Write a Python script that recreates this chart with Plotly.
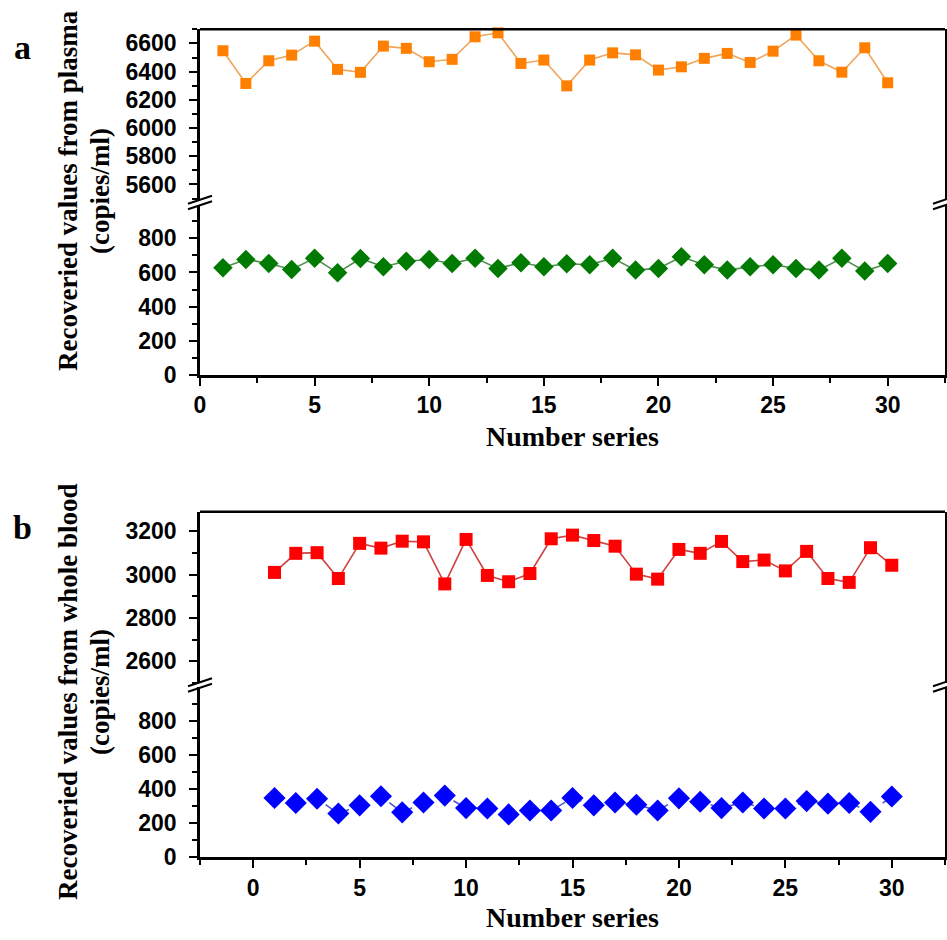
import plotly.graph_objects as go

# ---------------- data ----------------
x_series = list(range(1, 31))
plasma_high = [6548, 6316, 6477, 6517, 6616, 6416, 6395, 6581, 6565, 6470,
               6487, 6647, 6675, 6458, 6482, 6299, 6482, 6533, 6519, 6411,
               6434, 6494, 6529, 6465, 6545, 6659, 6477, 6396, 6569, 6321]
plasma_low = [628, 676, 653, 618, 684, 598, 682, 634, 666, 676,
              653, 684, 624, 657, 634, 651, 645, 684, 614, 624,
              692, 645, 614, 634, 645, 624, 614, 684, 608, 653]
blood_high = [3010, 3098, 3101, 2982, 3144, 3122, 3154, 3151, 2957, 3162,
              2996, 2967, 3005, 3165, 3182, 3157, 3131, 3002, 2979, 3116,
              3098, 3153, 3060, 3067, 3017, 3107, 2982, 2964, 3124, 3043]
blood_low = [347, 318, 343, 256, 304, 357, 263, 321, 361, 288,
             286, 251, 274, 274, 347, 304, 321, 308, 274, 345,
             325, 288, 321, 286, 286, 329, 314, 318, 266, 356]

x_ticks = [0, 5, 10, 15, 20, 25, 30]
low_ticks = [0, 200, 400, 600, 800]
plasma_high_ticks = [5600, 5800, 6000, 6200, 6400, 6600]
blood_high_ticks = [2600, 2800, 3000, 3200]

# ---------------- layout helpers ----------------
W, H = 947, 940
def px(v):
    return v / W
def py(v):
    return 1 - v / H

TICKFONT = dict(family="Liberation Sans, Arial", size=23, color="black", weight="bold")
SERIF = "Liberation Serif, Times New Roman"
TITLEFONT = dict(family=SERIF, size=27, color="black", weight="bold")
XTITLEFONT = dict(family=SERIF, size=28, color="black", weight="bold")

fig = go.Figure()

def add(x, y, xa, ya, symbol, mcolor, lcolor, size, dash="solid"):
    fig.add_trace(go.Scatter(
        x=x, y=y, xaxis=xa, yaxis=ya, mode="lines+markers",
        marker=dict(symbol=symbol, color=mcolor, size=size, line=dict(width=0)),
        line=dict(color=lcolor, width=1.6, dash=dash),
        cliponaxis=False, showlegend=False))

add(x_series, plasma_high, "x", "y2", "square", "#FF8000", "#EFA55A", 11)
add(x_series, plasma_low, "x", "y", "diamond", "#007A00", "#4E8E4E", 15)
add(x_series, blood_high, "x2", "y4", "square", "#FF0000", "#D04040", 13)
add(x_series, blood_low, "x2", "y3", "diamond", "#0000FF", "#5555C8", 17, dash="dash")

def xax(rng, anchor):
    return dict(domain=[px(200), px(945)], anchor=anchor, range=rng, automargin=False,
                tickvals=x_ticks, ticks="outside", ticklen=8, tickwidth=2,
                tickcolor="black", showline=True, linewidth=2.5, linecolor="black",
                showgrid=False, zeroline=False, tickfont=TICKFONT,
                minor=dict(dtick=2.5, tick0=0, ticks="outside", ticklen=5,
                           tickwidth=2, tickcolor="black", showgrid=False))

def yax(dom, rng, tickvals, anchor):
    return dict(domain=dom, anchor=anchor, range=rng, tickvals=tickvals, automargin=False,
                ticks="outside", ticklen=8, tickwidth=2, tickcolor="black",
                showline=True, linewidth=2.5, linecolor="black", mirror=True,
                showgrid=False, zeroline=False, tickfont=TICKFONT,
                ticklabelstandoff=8,
                minor=dict(dtick=100, tick0=0, ticks="outside", ticklen=5,
                           tickwidth=2, tickcolor="black", showgrid=False))

fig.update_layout(
    width=W, height=H,
    margin=dict(l=0, r=0, t=0, b=0, autoexpand=False),
    paper_bgcolor="white", plot_bgcolor="white",
    xaxis=xax([0, 32.5], "y"),
    xaxis2=xax([-2.5, 32.5], "y3"),
    yaxis=yax([py(375), py(205)], [0, 995], low_ticks, "x"),
    yaxis2=yax([py(200), py(29.3)], [5490, 6700], plasma_high_ticks, "x"),
    yaxis3=yax([py(857.3), py(687.3)], [0, 995], low_ticks, "x2"),
    yaxis4=yax([py(683), py(511.7)], [2500, 3290], blood_high_ticks, "x2"),
)

shapes = []
# top frame lines
for ytop in (29.3, 511.7):
    shapes.append(dict(type="line", xref="paper", yref="paper",
                       x0=px(200), x1=px(945), y0=py(ytop), y1=py(ytop),
                       line=dict(color="black", width=2.5)))
# axis break marks
for cx, cy in ((200, 202.5), (945, 202.5), (200, 685), (945, 685)):
    for off in (-2.8, 2.8):
        shapes.append(dict(type="line", xref="paper", yref="paper",
                           x0=px(cx - 12), y0=py(cy + off + 4),
                           x1=px(cx + 12), y1=py(cy + off - 4),
                           line=dict(color="black", width=2)))
fig.update_layout(shapes=shapes)

annotations = [
    dict(text="a", x=px(22), y=py(47), font=dict(family=SERIF, size=34, color="black", weight="bold")),
    dict(text="b", x=px(22), y=py(527), font=dict(family=SERIF, size=34, color="black", weight="bold")),
    dict(text="Recoveried values from plasma", x=px(68), y=py(191), textangle=-90, font=TITLEFONT),
    dict(text="(copies/ml)", x=px(100), y=py(191), textangle=-90, font=TITLEFONT),
    dict(text="Recoveried values from whole blood", x=px(68), y=py(692), textangle=-90, font=TITLEFONT),
    dict(text="(copies/ml)", x=px(100), y=py(692), textangle=-90, font=TITLEFONT),
    dict(text="Number series", x=px(572), y=py(437), font=XTITLEFONT),
    dict(text="Number series", x=px(572), y=py(917), font=XTITLEFONT),
]
for a in annotations:
    a.update(xref="paper", yref="paper", showarrow=False, xanchor="center", yanchor="middle")
fig.update_layout(annotations=annotations)

fig.write_html(
    "out.html",
    config={"displayModeBar": False},
    post_script=(
        "document.documentElement.style.overflow='hidden';"
        "document.body.style.margin='0';"
        "document.body.style.overflow='hidden';"
    ),
)
